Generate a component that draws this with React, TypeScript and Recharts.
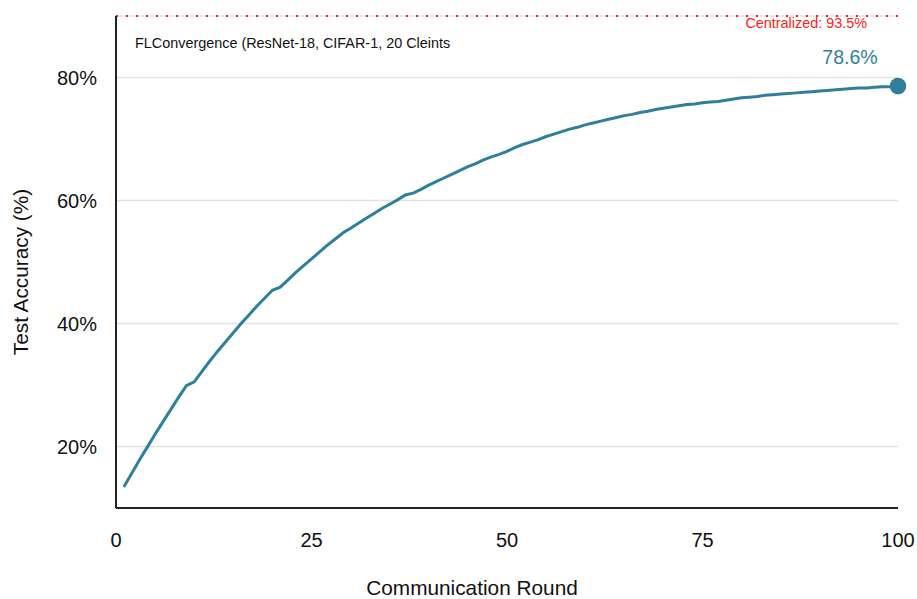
import { LineChart, Line, CartesianGrid, XAxis, YAxis, ReferenceLine, ReferenceDot, Label } from "recharts";

const ROUNDS = Array.from({ length: 100 }, (_, i) => i + 1);

// test accuracy (%) per round
const ACCURACY = [
  13.4, 15.6, 17.8, 19.9, 22.0, 24.0, 26.0, 28.0, 29.9, 30.5,
  32.2, 33.9, 35.5, 37.0, 38.5, 40.0, 41.4, 42.8, 44.1, 45.4,
  45.9, 47.1, 48.3, 49.4, 50.5, 51.6, 52.7, 53.7, 54.7, 55.5,
  56.3, 57.1, 57.9, 58.7, 59.4, 60.1, 60.9, 61.2, 61.8, 62.5,
  63.1, 63.7, 64.3, 64.9, 65.5, 66.0, 66.6, 67.1, 67.5, 68.0,
  68.6, 69.1, 69.5, 69.9, 70.4, 70.8, 71.2, 71.6, 71.9, 72.3,
  72.6, 72.9, 73.2, 73.5, 73.8, 74.0, 74.3, 74.5, 74.8, 75.0,
  75.2, 75.4, 75.6, 75.7, 75.9, 76.0, 76.1, 76.3, 76.5, 76.7,
  76.8, 76.9, 77.1, 77.2, 77.3, 77.4, 77.5, 77.6, 77.7, 77.8,
  77.9, 78.0, 78.1, 78.2, 78.3, 78.3, 78.4, 78.5, 78.5, 78.6,
];

const X_TICKS = [0, 25, 50, 75, 100];
const Y_TICKS = [20, 40, 60, 80];
const Y_DOMAIN = [10, 90];
const CENTRALIZED = 93.5;
const TITLE = "FLConvergence (ResNet-18, CIFAR-1, 20 Cleints";

const TEAL = "#2f7f9c";
const FONT = "'Liberation Sans', Arial, sans-serif";

const data = ROUNDS.map((r, i) => ({ round: r, acc: ACCURACY[i] }));
const last = data[data.length - 1];

export default function App() {
  return (
    <div style={{ position: "absolute", left: 0, top: 0, width: 917, height: 599, background: "#fff", fontFamily: FONT }}>
      <LineChart width={917} height={599} data={data} margin={{ top: 16, right: 19, left: 0, bottom: 0 }}>
        <CartesianGrid vertical={false} stroke="#e3e3e3" strokeWidth={1.5} />
        <XAxis
          dataKey="round"
          type="number"
          domain={[0, 100]}
          ticks={X_TICKS}
          height={91}
          tickLine={false}
          tickSize={0}
          tickMargin={25}
          axisLine={{ stroke: "#222", strokeWidth: 2 }}
          tick={{ fontSize: 20, fill: "#111", fontFamily: FONT }}
        >
          <Label value="Communication Round" position="insideBottom" offset={4} dx={-35} style={{ fontSize: 20.8, fill: "#111", fontFamily: FONT }} />
        </XAxis>
        <YAxis
          type="number"
          domain={Y_DOMAIN}
          ticks={Y_TICKS}
          width={116}
          tickLine={false}
          tickSize={0}
          tickMargin={19}
          axisLine={{ stroke: "#222", strokeWidth: 2 }}
          tickFormatter={(v: number) => `${v}%`}
          tick={{ fontSize: 20, fill: "#111", fontFamily: FONT }}
        >
          <Label value="Test Accuracy (%)" angle={-90} position="insideLeft" offset={21} dy={10} style={{ fontSize: 20.8, fill: "#111", fontFamily: FONT, textAnchor: "middle" }} />
        </YAxis>
        <ReferenceLine y={Y_DOMAIN[1]} stroke="#ff2020" strokeWidth={2.2} strokeDasharray="2 8">
          <Label
            value={`Centralized: ${CENTRALIZED}%`}
            position="insideBottomRight"
            offset={2}
            dx={-29}
            dy={14}
            style={{ fontSize: 14.4, fill: "#ff2020", fontFamily: FONT }}
          />
        </ReferenceLine>
        <Line type="linear" dataKey="acc" stroke={TEAL} strokeWidth={3} dot={false} isAnimationActive={false} />
        <ReferenceDot x={last.round} y={last.acc} r={8.3} fill={TEAL} stroke="none">
          <Label value={`${last.acc}%`} position="top" offset={14} dx={-48} style={{ fontSize: 19.5, fill: TEAL, fontFamily: FONT }} />
        </ReferenceDot>
      </LineChart>
      <div style={{ position: "absolute", left: 135, top: 35, fontSize: 14.4, color: "#111", fontFamily: FONT, whiteSpace: "nowrap" }}>
        {TITLE}
      </div>
    </div>
  );
}
